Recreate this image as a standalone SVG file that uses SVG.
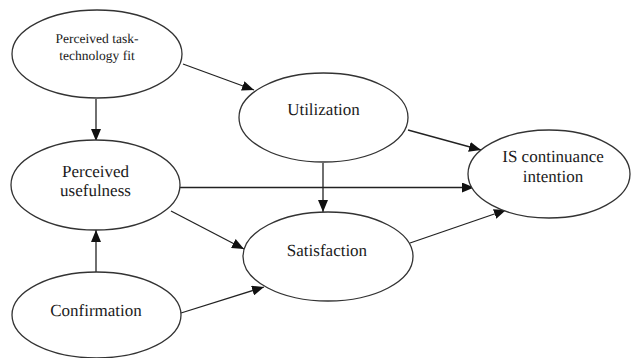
<svg xmlns="http://www.w3.org/2000/svg" width="631" height="358" viewBox="0 0 631 358">
<style>
.n ellipse{fill:#fff;stroke:#333;stroke-width:1.3}
.n text{font-family:"Liberation Serif","Times New Roman",serif;fill:#1a1a1a;text-anchor:middle;font-size:17px;text-rendering:geometricPrecision}
.n text.s{font-size:13.5px}
.c line{stroke:#222;stroke-width:1.3;marker-end:url(#ah)}
</style>
<defs>
<marker id="ah" markerUnits="userSpaceOnUse" markerWidth="14" markerHeight="10" refX="12" refY="5" orient="auto">
<path d="M0,0 L12,5 L0,10 Z" fill="#111"/>
</marker>
</defs>
<rect width="631" height="358" fill="#fff"/>
<g class="c" id="connectors">
<line x1="183" y1="64" x2="254" y2="90"/>
<line x1="96" y1="99" x2="96" y2="141"/>
<line x1="408" y1="130" x2="481" y2="150"/>
<line x1="323" y1="163" x2="323" y2="212"/>
<line x1="180" y1="187.5" x2="474" y2="187.5"/>
<line x1="171" y1="211" x2="244" y2="249"/>
<line x1="96" y1="276" x2="96" y2="230"/>
<line x1="181" y1="313" x2="264" y2="287"/>
<line x1="410" y1="243" x2="506" y2="210"/>
</g>
<g class="n" id="fit">
<ellipse cx="97" cy="54" rx="85" ry="44"/>
<text class="s" x="97" y="43">Perceived task-</text>
<text class="s" x="97" y="60">technology fit</text>
</g>
<g class="n" id="utilization">
<ellipse cx="323.5" cy="117.5" rx="84.5" ry="44.5"/>
<text x="323.5" y="115">Utilization</text>
</g>
<g class="n" id="usefulness">
<ellipse cx="95.5" cy="185" rx="84.5" ry="45"/>
<text x="95.5" y="177">Perceived</text>
<text x="95.5" y="196">usefulness</text>
</g>
<g class="n" id="continuance">
<ellipse cx="549" cy="174" rx="81" ry="44"/>
<text x="553" y="162">IS continuance</text>
<text x="553" y="182">intention</text>
</g>
<g class="n" id="satisfaction">
<ellipse cx="328" cy="256.5" rx="85" ry="44.5"/>
<text x="327" y="256">Satisfaction</text>
</g>
<g class="n" id="confirmation">
<ellipse cx="96.5" cy="315" rx="84.5" ry="43"/>
<text x="96" y="316">Confirmation</text>
</g>
</svg>
